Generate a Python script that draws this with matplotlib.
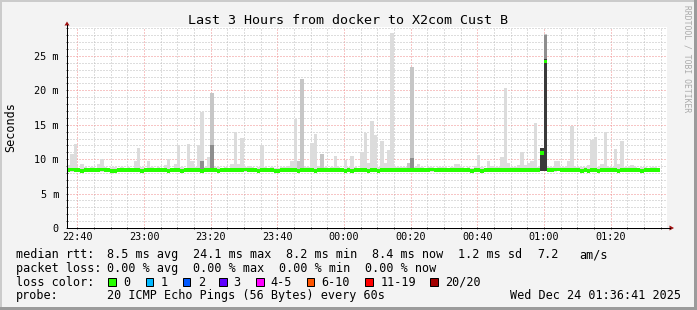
import numpy as np
import matplotlib
matplotlib.use("Agg")
import matplotlib.pyplot as plt
from matplotlib.patches import Rectangle, Polygon

# ---------------- data ----------------
start_min = 36.9          # first step, minutes after 22:00
step_len = 1.0            # one probe round per minute

smoke_max = [
    9.1, 10.7, 12.2, 8.7, 9.3, 8.8, 8.7, 8.8, 8.7, 9.3,
    10.0, 8.8, 8.7, 8.8, 8.8, 8.7, 8.8, 8.7, 8.8, 8.7,
    9.8, 11.6, 8.8, 8.7, 9.8, 8.8, 8.7, 8.8, 8.7, 9.1,
    10.0, 8.7, 9.3, 12.1, 8.8, 8.7, 12.2, 9.7, 8.8, 12.1,
    16.8, 8.9, 10.3, 19.6, 8.8, 8.9, 8.7, 8.8, 8.7, 9.3,
    13.9, 9.3, 13.1, 8.8, 9.0, 8.8, 8.7, 8.8, 12.1, 8.8,
    8.7, 8.8, 8.7, 8.7, 8.8, 8.8, 9.0, 9.8, 15.8, 9.8,
    21.6, 8.8, 8.8, 12.4, 13.6, 9.0, 10.8, 8.8, 8.7, 8.8,
    10.5, 8.8, 8.7, 9.9, 8.8, 10.5, 8.8, 8.7, 11.0, 13.8,
    9.5, 15.6, 13.5, 8.8, 12.6, 9.5, 11.4, 28.4, 8.8, 8.8,
    8.8, 8.8, 9.5, 23.4, 8.8, 9.3, 8.8, 8.7, 8.8, 8.9,
    8.7, 8.8, 8.9, 8.9, 8.7, 8.8, 9.3, 9.3, 8.8, 8.7,
    8.8, 8.7, 9.0, 10.6, 8.8, 8.7, 9.7, 9.0, 8.8, 8.8,
    10.3, 20.4, 9.4, 8.8, 8.8, 9.2, 11.0, 9.2, 9.4, 9.8,
    15.2, 8.8, 11.6, 28.2, 8.8, 8.8, 9.8, 9.8, 8.8, 8.8,
    9.7, 14.8, 8.8, 8.8, 8.8, 8.8, 9.2, 12.8, 13.2, 8.8,
    9.3, 13.9, 8.8, 8.8, 11.5, 9.3, 12.6, 8.8, 8.8, 9.2,
    8.8, 8.7, 8.8, 8.8, 8.7, 8.8, 8.8, 8.7,
]

smoke_min = [
    8.1, 8.2, 8.1, 8.2, 8.0, 8.2, 8.1, 8.2, 8.2, 8.1, 8.2, 8.2, 8.1, 8.0, 8.0, 8.2, 8.2, 8.1, 8.2, 8.2,
    8.1, 8.2, 8.1, 8.2, 8.2, 8.1, 8.2, 8.2, 8.1, 8.2, 8.1, 8.2, 8.2, 8.1, 8.1, 8.2, 8.2, 8.1, 8.2, 8.1,
    8.0, 8.2, 8.2, 8.1, 8.2, 8.0, 8.2, 8.2, 8.1, 8.2, 8.2, 8.1, 8.2, 8.2, 8.2, 8.1, 8.2, 8.1, 8.2, 8.2,
    8.2, 8.1, 8.1, 8.0, 8.2, 8.2, 8.1, 8.2, 8.2, 8.1, 8.2, 8.2, 8.1, 8.2, 8.1, 8.2, 8.2, 8.1, 8.2, 8.2,
    8.2, 8.1, 8.2, 8.1, 8.2, 8.1, 8.2, 8.2, 8.1, 8.2, 8.1, 8.2, 8.2, 8.1, 8.2, 8.2, 8.1, 8.2, 8.2, 8.2,
    8.2, 8.1, 8.2, 8.2, 8.1, 8.2, 8.2, 8.2, 8.1, 8.2, 8.2, 8.2, 8.1, 8.2, 8.2, 8.2, 8.1, 8.2, 8.2, 8.2,
    8.2, 8.1, 8.2, 8.1, 8.0, 8.2, 8.2, 8.2, 8.1, 8.2, 8.2, 8.2, 8.2, 8.1, 8.2, 8.2, 8.2, 8.1, 8.2, 8.2,
    8.2, 8.2, 8.3, 8.3, 8.2, 8.2, 8.2, 8.3, 8.2, 8.2, 8.2, 8.2, 8.1, 8.2, 8.0, 8.2, 8.0, 8.2, 8.2, 8.0,
    8.2, 8.2, 8.2, 8.1, 8.2, 8.0, 8.2, 8.2, 8.1, 8.2, 8.2, 8.1, 8.0, 8.2, 8.2, 8.1, 8.2, 8.2,
]

median_rtt = [
    8.4, 8.5, 8.4, 8.4, 8.3, 8.4, 8.4, 8.4, 8.4, 8.4, 8.5, 8.4, 8.4, 8.3, 8.3, 8.4, 8.4, 8.4, 8.4, 8.4,
    8.4, 8.4, 8.3, 8.4, 8.4, 8.4, 8.4, 8.4, 8.4, 8.4, 8.3, 8.4, 8.4, 8.4, 8.3, 8.4, 8.4, 8.4, 8.4, 8.4,
    8.3, 8.4, 8.4, 8.4, 8.4, 8.3, 8.4, 8.4, 8.4, 8.4, 8.4, 8.4, 8.4, 8.5, 8.4, 8.4, 8.4, 8.3, 8.4, 8.4,
    8.4, 8.4, 8.3, 8.3, 8.4, 8.4, 8.4, 8.4, 8.4, 8.3, 8.4, 8.4, 8.4, 8.4, 8.3, 8.4, 8.4, 8.4, 8.4, 8.4,
    8.4, 8.4, 8.4, 8.3, 8.4, 8.3, 8.4, 8.4, 8.4, 8.4, 8.3, 8.4, 8.4, 8.3, 8.4, 8.4, 8.4, 8.4, 8.4, 8.4,
    8.4, 8.4, 8.4, 8.4, 8.4, 8.4, 8.4, 8.4, 8.4, 8.5, 8.4, 8.4, 8.4, 8.4, 8.4, 8.4, 8.4, 8.4, 8.4, 8.4,
    8.4, 8.3, 8.4, 8.4, 8.3, 8.4, 8.4, 8.4, 8.4, 8.4, 8.4, 8.4, 8.4, 8.4, 8.4, 8.4, 8.4, 8.4, 8.4, 8.4,
    8.4, 8.4, 10.9, 24.2, 8.4, 8.4, 8.5, 8.5, 8.4, 8.4, 8.4, 8.4, 8.4, 8.4, 8.3, 8.4, 8.3, 8.4, 8.4, 8.3,
    8.4, 8.4, 8.4, 8.4, 8.4, 8.3, 8.4, 8.4, 8.4, 8.4, 8.4, 8.4, 8.3, 8.4, 8.4, 8.4, 8.4, 8.4,
]

# denser smoke (more pings spread) for a few steps
shade2_steps = [43, 69, 70, 76, 102, 103, 143]
shade2_hi = [19.6, 9.8, 21.6, 10.8, 9.5, 23.4, 28.2]
shade3_steps = [40, 43, 103, 142, 143]
shade3_hi = [9.7, 12.1, 10.2, 11.6, 28.0]
shade4_steps = [142, 143]
shade4_hi = [11.6, 24.5]

y_major = [0, 5, 10, 15, 20, 25]
y_labels = ["0", "5 m", "10 m", "15 m", "20 m", "25 m"]
x_major = [40, 60, 80, 100, 120, 140, 160, 180, 200]
x_labels = ["22:40", "23:00", "23:20", "23:40", "00:00", "00:20", "00:40", "01:00", "01:20"]

loss_labels = ["0", "1", "2", "3", "4-5", "6-10", "11-19", "20/20"]
loss_colors = ["#26ff00", "#00b8ff", "#0059ff", "#5e00ff", "#ff00ff", "#ff5500", "#ff0000", "#a10000"]

title = "Last 3 Hours from docker to X2com Cust B"

# ---------------- figure ----------------
W, H = 697, 310
MONO = "DejaVu Sans Mono"
fig = plt.figure(figsize=(W / 100, H / 100), dpi=100)
fig.patch.set_facecolor("#f3f3f3")

L, R, T, B = 67, 667, 27, 228
ax = fig.add_axes([L / W, 1 - B / H, (R - L) / W, (B - T) / H])
ax.set_facecolor("white")
ax.set_xlim(start_min, start_min + 180)
ax.set_ylim(0, 29.2)

n = len(median_rtt)
edges = start_min + np.arange(n + 1) * step_len


def stepfill(lo, hi, color, z):
    lo = np.append(np.asarray(lo, float), lo[-1])
    hi = np.append(np.asarray(hi, float), hi[-1])
    ax.fill_between(edges, lo, hi, step="post", color=color, linewidth=0, zorder=z)


def shade(steps, hi, color, z):
    steps = np.asarray(steps)
    lo = np.asarray(smoke_min)[steps]
    ax.bar(start_min + steps * step_len, np.asarray(hi) - lo, bottom=lo, width=step_len,
           align="edge", color=color, linewidth=0, zorder=z)


stepfill(smoke_min, smoke_max, "#dcdcdc", 2)
shade(shade2_steps, shade2_hi, "#c6c6c6", 3)
shade(shade3_steps, shade3_hi, "#8e8e8e", 4)
shade(shade4_steps, shade4_hi, "#3a3a3a", 5)

band = 0.25
med = np.asarray(median_rtt)
stepfill(med - band, med + band, "#26ff00", 6)

# grid
ax.set_xticks(x_major)
ax.set_xticklabels(x_labels)
ax.set_xticks(np.arange(40, start_min + 180, 5), minor=True)
ax.set_yticks(y_major)
ax.set_yticklabels(y_labels)
ax.set_yticks(np.arange(1, 29.2, 1), minor=True)
ax.set_axisbelow(True)
ax.grid(which="minor", color="#bdbdbd", linestyle=(0, (1, 2)), linewidth=0.72)
ax.grid(which="major", color="#f08c8c", linestyle=(0, (1, 2)), linewidth=0.72)
for s in ax.spines.values():
    s.set_visible(False)
ax.tick_params(which="both", direction="inout", color="#555555", width=0.72,
               labelsize=7.3, labelfontfamily=MONO)
ax.tick_params(which="major", length=2)
ax.tick_params(which="minor", length=1.4)
ax.tick_params(axis="y", pad=4.8)
ax.tick_params(axis="x", pad=2.2)

# ---------------- overlay in pixel coordinates ----------------
fa = fig.add_axes([0, 0, 1, 1])
fa.set_xlim(0, W)
fa.set_ylim(H, 0)
fa.axis("off")
fa.patch.set_alpha(0)
fa.set_zorder(5)

# frame
fa.add_patch(Rectangle((0, 0), W, 2, color="#cbcbcb", lw=0))
fa.add_patch(Rectangle((0, 0), 2, H, color="#cbcbcb", lw=0))
fa.add_patch(Rectangle((0, H - 3), W, 3, color="#9b9b9b", lw=0))
fa.add_patch(Rectangle((W - 3, 0), 3, H, color="#9b9b9b", lw=0))

# axes with arrows
fa.plot([L, L], [B, 25], color="black", lw=0.72)
fa.plot([L, 670], [B, B], color="black", lw=0.72)
fa.add_patch(Polygon([(64.5, 25.5), (69.5, 25.5), (67, 21.5)], closed=True, color="#a01010", lw=0))
fa.add_patch(Polygon([(669.5, 225.5), (669.5, 230.5), (674, 228)], closed=True, color="#a01010", lw=0))

# texts
fa.text(348, 24, title, family=MONO, fontsize=9.6, ha="center", va="baseline")
fa.text(14, 127, "Seconds", family=MONO, fontsize=8.5, rotation=90, rotation_mode="anchor",
        ha="center", va="baseline")
fa.text(685, 5, "RRDTOOL / TOBI OETIKER", family=MONO, fontsize=5.8, color="#aaaaaa",
        rotation=-90, rotation_mode="anchor", ha="left", va="baseline")

LEG = 8.5
row1 = [("median rtt:", 16), ("8.5 ms avg", 107.3), ("24.1 ms max", 193.3), ("8.2 ms min", 286),
        ("8.4 ms now", 372.3), ("1.2 ms sd", 458.3), ("7.2", 537.3), ("am/s", 579.3)]
row2 = [("packet loss:", 16), ("0.00 % avg", 107.3), ("0.00 % max", 193.3),
        ("0.00 % min", 279.3), ("0.00 % now", 365)]
for txt, x in row1:
    fa.text(x, 258.3, txt, family=MONO, fontsize=LEG, ha="left", va="baseline")
for txt, x in row2:
    fa.text(x, 272.0, txt, family=MONO, fontsize=LEG, ha="left", va="baseline")

fa.text(16, 285.7, "loss color:", family=MONO, fontsize=LEG, ha="left", va="baseline")
box_x = [108.3, 145.7, 182.7, 219, 256, 306.7, 365, 430]
lab_x = [123.3, 161, 197.7, 233, 270.7, 321.7, 380.7, 445]
for bx, lx, lab, col in zip(box_x, lab_x, loss_labels, loss_colors):
    fa.add_patch(Rectangle((bx, 277.7), 7.6, 8, facecolor=col, edgecolor="black", lw=0.72))
    fa.text(lx, 285.7, lab, family=MONO, fontsize=LEG, ha="left", va="baseline")

fa.text(16, 299.4, "probe:", family=MONO, fontsize=LEG, ha="left", va="baseline")
fa.text(107.3, 299.4, "20 ICMP Echo Pings (56 Bytes) every 60s", family=MONO, fontsize=LEG,
        ha="left", va="baseline")
fa.text(681, 299.4, "Wed Dec 24 01:36:41 2025", family=MONO, fontsize=LEG, ha="right", va="baseline")

fig.savefig("out.png", dpi=100, facecolor=fig.get_facecolor())
